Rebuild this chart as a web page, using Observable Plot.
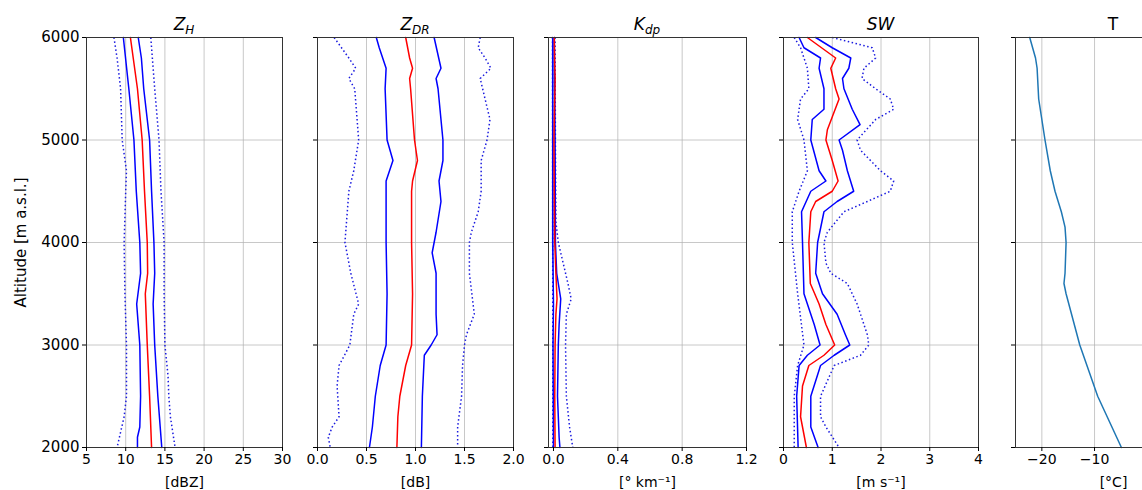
<!DOCTYPE html>
<html><head><meta charset="utf-8">
<script src="https://cdn.jsdelivr.net/npm/d3@7"></script>
<script src="https://cdn.jsdelivr.net/npm/@observablehq/plot@0.6"></script>
<style>
body{margin:0;background:#fff;font-family:"DejaVu Sans",sans-serif;}
#wrap{position:relative;width:1142px;height:490px;overflow:hidden;background:#fff;}
.panel{position:absolute;top:0;}
.title{position:absolute;top:16px;font-size:17px;transform:translateX(-50%);white-space:nowrap;line-height:17px;color:#000;}
.title sub{font-size:12px;vertical-align:-4px;line-height:0;}
</style></head><body><div id="wrap"></div><script>
// ---------- data: [altitude (m), value] ----------
const altitudeTicks = [2000, 3000, 4000, 5000, 6000];

const zhMedian  = [[6000,10.6],[5500,11.5],[5000,12.1],[4500,12.4],[4000,12.75],[3700,12.8],[3500,12.5],[3000,12.75],[2500,13.05],[2000,13.3]];
const zhInnerLo = [[6000,9.7],[5500,10.4],[5000,11.05],[4500,11.35],[4000,11.8],[3700,11.9],[3400,11.4],[3000,11.8],[2500,11.9],[2200,11.8],[2100,11.5],[2000,11.5]];
const zhInnerHi = [[6000,11.6],[5800,12.0],[5500,12.3],[5000,13.05],[4500,13.3],[4000,13.6],[3700,13.7],[3400,13.5],[3000,13.7],[2500,14.1],[2000,14.6]];
const zhOuterLo = [[6000,8.5],[5800,8.9],[5500,9.35],[5000,9.55],[4700,10.1],[4500,10.0],[4000,9.8],[3500,9.9],[3000,10.1],[2500,10.1],[2300,9.8],[2000,8.9]];
const zhOuterHi = [[6000,13.2],[5500,13.7],[5000,14.25],[4500,14.5],[4000,14.9],[3500,14.9],[3000,15.0],[2700,15.4],[2500,15.5],[2300,15.7],[2000,16.3]];

const zdrMedian  = [[6000,0.90],[5800,0.94],[5700,0.97],[5600,0.94],[5500,0.95],[5000,0.99],[4800,1.02],[4600,0.97],[4500,0.96],[4000,0.96],[3500,0.97],[3000,0.96],[2800,0.90],[2500,0.84],[2300,0.82],[2000,0.81]];
const zdrInnerLo = [[6000,0.60],[5900,0.63],[5700,0.70],[5500,0.69],[5000,0.71],[4800,0.77],[4600,0.70],[4000,0.70],[3500,0.71],[3000,0.70],[2800,0.64],[2500,0.59],[2200,0.56],[2000,0.53]];
const zdrInnerHi = [[6000,1.19],[5700,1.26],[5600,1.21],[5500,1.23],[5000,1.28],[4800,1.28],[4600,1.24],[4400,1.26],[4100,1.21],[3900,1.17],[3700,1.21],[3300,1.21],[3100,1.22],[3000,1.16],[2900,1.09],[2500,1.07],[2000,1.06]];
const zdrOuterLo = [[6000,0.17],[5800,0.32],[5700,0.39],[5600,0.32],[5500,0.38],[5000,0.42],[4700,0.37],[4500,0.32],[4000,0.28],[3700,0.34],[3400,0.42],[3300,0.37],[3000,0.33],[2800,0.22],[2600,0.20],[2300,0.22],[2200,0.15],[2100,0.11],[2000,0.13]];
const zdrOuterHi = [[6000,1.66],[5900,1.64],[5800,1.71],[5700,1.77],[5600,1.66],[5400,1.71],[5200,1.76],[5000,1.73],[4800,1.67],[4500,1.67],[4300,1.64],[4100,1.57],[4000,1.55],[3700,1.55],[3300,1.60],[3100,1.52],[3000,1.50],[2800,1.48],[2500,1.47],[2200,1.43],[2000,1.43]];

const kdpMedian  = [[6000,0.005],[5700,0.008],[5600,0.01],[5000,0.003],[4500,0.005],[4000,0.008],[3700,0.015],[3450,0.022],[3300,0.015],[3000,0.01],[2500,0.008],[2000,0.01]];
const kdpInnerLo = [[6000,-0.005],[4000,-0.005],[3400,0.0],[3000,-0.003],[2000,0.0]];
const kdpInnerHi = [[6000,0.005],[5000,0.01],[4000,0.012],[3700,0.02],[3450,0.045],[3200,0.035],[3000,0.03],[2500,0.025],[2100,0.035],[2000,0.04]];
const kdpOuterLo = [[6000,-0.006],[4000,-0.005],[2000,-0.004]];
const kdpOuterHi = [[6000,0.01],[5000,0.012],[4200,0.015],[4000,0.03],[3800,0.06],[3600,0.09],[3450,0.11],[3300,0.08],[3000,0.075],[2500,0.08],[2200,0.1],[2000,0.12]];

const swMedian  = [[6000,0.49],[5800,1.07],[5700,0.97],[5500,1.07],[5400,1.14],[5100,0.90],[5000,0.87],[4800,1.0],[4600,1.12],[4500,1.0],[4400,0.66],[4300,0.56],[4000,0.52],[3600,0.55],[3400,0.73],[3200,0.87],[3000,1.05],[2900,0.83],[2800,0.52],[2600,0.39],[2300,0.35],[2000,0.47]];
const swInnerLo = [[6000,0.32],[5900,0.42],[5800,0.76],[5700,0.73],[5500,0.83],[5300,0.83],[5200,0.59],[5000,0.56],[4700,0.73],[4600,0.87],[4500,0.56],[4300,0.37],[4000,0.39],[3500,0.42],[3200,0.63],[3000,0.75],[2900,0.49],[2800,0.32],[2500,0.27],[2000,0.30]];
const swInnerHi = [[6000,0.66],[5900,1.0],[5800,1.38],[5700,1.34],[5600,1.21],[5500,1.24],[5300,1.41],[5150,1.57],[5000,1.14],[4900,1.21],[4700,1.31],[4500,1.44],[4400,1.10],[4300,0.83],[4000,0.70],[3700,0.66],[3500,0.80],[3300,1.10],[3100,1.27],[3000,1.36],[2900,1.04],[2800,0.76],[2500,0.56],[2200,0.56],[2000,0.71]];
const swOuterLo = [[6000,0.22],[5900,0.35],[5700,0.49],[5500,0.52],[5400,0.35],[5200,0.29],[5000,0.42],[4700,0.49],[4500,0.32],[4300,0.18],[4000,0.18],[3500,0.29],[3000,0.42],[2800,0.29],[2500,0.22],[2000,0.22]];
const swOuterHi = [[6000,1.0],[5900,1.82],[5800,1.89],[5700,1.65],[5600,1.61],[5500,1.89],[5400,2.19],[5300,2.26],[5200,1.89],[5000,1.51],[4900,1.58],[4700,1.99],[4600,2.26],[4500,2.19],[4400,1.72],[4300,1.24],[4100,0.90],[4000,0.83],[3800,0.87],[3700,0.97],[3600,1.31],[3400,1.51],[3300,1.58],[3100,1.72],[3000,1.75],[2900,1.58],[2800,1.04],[2500,0.76],[2300,0.76],[2200,0.87],[2000,1.14]];

const temperature = [[6000,-22.3],[5800,-21.2],[5700,-20.9],[5400,-20.6],[5000,-19.4],[4700,-18.4],[4500,-17.5],[4300,-16.3],[4150,-15.6],[4000,-15.4],[3700,-15.6],[3600,-15.8],[3500,-15.4],[3000,-12.8],[2500,-9.4],[2000,-4.9]];

const zhTicks  = [5, 10, 15, 20, 25, 30];
const zdrTicks = [0.0, 0.5, 1.0, 1.5, 2.0];
const kdpTicks = [0.0, 0.4, 0.8, 1.2];
const swTicks  = [0, 1, 2, 3, 4];
const tTicks   = [-20, -10, 0, 10];

// ---------- panels ----------
const minus = d => (d < 0 ? "\u2212" + Math.abs(d) : String(d));
const f1 = d3.format(".1f");
const panels = [
  {left: 86, right: 282, domain: [5, 30], ticks: zhTicks, fmt: minus, xlabel: "[dBZ]", title: "<i>Z<sub>H</sub></i>",
   stats: [zhMedian, zhInnerLo, zhInnerHi, zhOuterLo, zhOuterHi]},
  {left: 317, right: 513, domain: [0, 2], ticks: zdrTicks, fmt: f1, xlabel: "[dB]", title: "<i>Z<sub>DR</sub></i>",
   stats: [zdrMedian, zdrInnerLo, zdrInnerHi, zdrOuterLo, zdrOuterHi]},
  {left: 548, right: 746, domain: [-0.031, 1.2], ticks: kdpTicks, fmt: f1, xlabel: "[\u00b0 km\u207b\u00b9]", title: "<i>K<sub>dp</sub></i>",
   stats: [kdpMedian, kdpInnerLo, kdpInnerHi, kdpOuterLo, kdpOuterHi]},
  {left: 783, right: 978, domain: [0, 4], ticks: swTicks, fmt: minus, xlabel: "[m s\u207b\u00b9]", title: "<i>SW</i>",
   stats: [swMedian, swInnerLo, swInnerHi, swOuterLo, swOuterHi]},
  {left: 1015, right: 1211, domain: [-25, 12.2], ticks: tTicks, fmt: minus, xlabel: "[\u00b0C]", title: "T",
   temp: temperature}
];

const wrap = document.getElementById("wrap");
panels.forEach((p, i) => {
  const first = i === 0;
  const marginLeft = first ? 86 : 12;
  const marginRight = 12;
  const width = (p.right - p.left) + marginLeft + marginRight;
  const lineMarks = [];
  if (p.stats) {
    const [med, lo, hi, lo2, hi2] = p.stats;
    for (const s of [lo2, hi2]) lineMarks.push(Plot.line(s, {x: d => d[1], y: d => d[0], stroke: "#1a1adf", strokeWidth: 1.5, strokeDasharray: "1.5,2.5", strokeLinecap: "butt"}));
    for (const s of [lo, hi]) lineMarks.push(Plot.line(s, {x: d => d[1], y: d => d[0], stroke: "#0000ff", strokeWidth: 1.5}));
    lineMarks.push(Plot.line(med, {x: d => d[1], y: d => d[0], stroke: "#ff0000", strokeWidth: 1.5}));
  } else {
    lineMarks.push(Plot.line(p.temp, {x: d => d[1], y: d => d[0], stroke: "#1f77b4", strokeWidth: 1.5}));
  }
  const chart = Plot.plot({
    width, height: 490,
    marginTop: 37, marginBottom: 43, marginLeft, marginRight,
    style: {fontFamily: "DejaVu Sans, sans-serif", fontSize: "14px", color: "#000", background: "transparent", overflow: "visible"},
    x: {domain: p.domain},
    y: {domain: [2000, 6000]},
    marks: [
      Plot.gridX({ticks: p.ticks, stroke: "#b0b0b0", strokeOpacity: 0.7, strokeWidth: 1}),
      Plot.gridY({ticks: altitudeTicks, stroke: "#b0b0b0", strokeOpacity: 0.7, strokeWidth: 1}),
      ...lineMarks,
      Plot.frame({stroke: "#333", strokeWidth: 1}),
      Plot.axisX({ticks: p.ticks, tickFormat: p.fmt, tickSize: 4, tickPadding: 3, fontSize: 14,
                  label: p.xlabel, labelAnchor: "center", labelArrow: "none", labelOffset: 39}),
      Plot.axisY({ticks: altitudeTicks, tickSize: 4, tickPadding: 3, fontSize: first ? 15 : 14,
                  tickFormat: first ? (d => String(d)) : (() => ""),
                  label: first ? "Altitude [m a.s.l.]" : null, labelAnchor: "center", labelArrow: "none", labelOffset: 71})
    ]
  });
  chart.classList.add("panel");
  chart.style.left = (p.left - marginLeft) + "px";
  wrap.appendChild(chart);
  const t = document.createElement("div");
  t.className = "title";
  t.innerHTML = p.title;
  t.style.left = ((p.left + p.right) / 2) + "px";
  wrap.appendChild(t);
});
</script></body></html>
